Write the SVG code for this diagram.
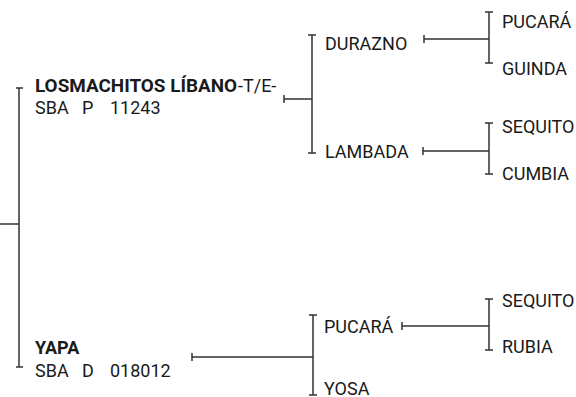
<svg xmlns="http://www.w3.org/2000/svg" width="576" height="397" viewBox="0 0 576 397">
<style>
text{font-family:Roboto,"Liberation Sans",sans-serif;font-size:18px;fill:#1a1a1a}
.b{font-weight:bold}
.c{fill:none;stroke:#333;stroke-width:1.5}
</style>
<rect width="576" height="397" fill="#fff"/>
<g id="connectors" class="c">
<path d="M16,88H23M19,88V367M16,367H23M0,224H19"/>
<path d="M284,95V103M284,99H312M308,35H316M312,35V153M308,153H316"/>
<path d="M424,35V43M424,39H489M485,12H493M489,12V63M485,63H493"/>
<path d="M423,147V155M423,151H489M485,123H493M489,123V174M485,174H493"/>
<path d="M192,353V361M192,357H313M309,315H317M313,315V395M309,395H317"/>
<path d="M402,322V330M402,326H489M485,299H493M489,299V350M485,350H493"/>
</g>
<g id="losmachitos"><text x="35" y="92" class="b" textLength="202" lengthAdjust="spacingAndGlyphs">LOSMACHITOS LÍBANO</text><text x="238" y="92">-T/E-</text><text y="114"><tspan x="35">SBA</tspan> <tspan x="82">P</tspan> <tspan x="110">11243</tspan></text></g>
<g id="durazno"><text x="325" y="50">DURAZNO</text></g>
<g id="lambada"><text x="325" y="158">LAMBADA</text></g>
<g id="pucara1"><text x="502" y="28">PUCARÁ</text></g>
<g id="guinda"><text x="502" y="75">GUINDA</text></g>
<g id="sequito1"><text x="502" y="133">SEQUITO</text></g>
<g id="cumbia"><text x="502" y="180">CUMBIA</text></g>
<g id="yapa"><text x="35" y="354" class="b">YAPA</text><text y="377"><tspan x="35">SBA</tspan> <tspan x="82">D</tspan> <tspan x="110">018012</tspan></text></g>
<g id="pucara2"><text x="324" y="333">PUCARÁ</text></g>
<g id="yosa"><text x="324" y="395">YOSA</text></g>
<g id="sequito2"><text x="502" y="307">SEQUITO</text></g>
<g id="rubia"><text x="502" y="353">RUBIA</text></g>
</svg>
